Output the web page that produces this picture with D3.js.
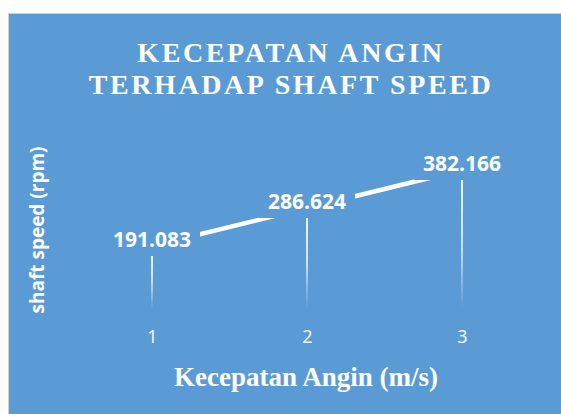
<!DOCTYPE html>
<html>
<head>
<meta charset="utf-8">
<script src="https://cdn.jsdelivr.net/npm/d3@7"></script>
<style>
    body { margin: 0; background: #fff; }
</style>
</head>
<body>
<div id="chart"></div>
<script>
// data
var categories = [1, 2, 3];
var shaftSpeed = [191.083, 286.624, 382.166];
var titleLines = ["KECEPATAN ANGIN", "TERHADAP SHAFT SPEED"];
var xTitle = "Kecepatan Angin (m/s)";
var yTitle = "shaft speed (rpm)";

var W = 561, H = 414,
    bg = "#5b9bd5",
    svg = d3.select("#chart").append("svg")
        .attr("width", W)
        .attr("height", H),
    x = d3.scalePoint()
        .domain(categories)
        .range([152, 462]),
    y = d3.scaleLinear()
        .domain([0, 382.166])
        .range([322, 170]);

// chart area with thin grey border top/left
svg.append("rect")
    .attr("x", 8.5)
    .attr("y", 13.5)
    .attr("width", W)
    .attr("height", H)
    .attr("fill", bg)
    .attr("stroke", "#d0d0d0")
    .attr("stroke-width", 1);

var defs = svg.append("defs");
var grad = defs.append("linearGradient")
    .attr("id", "drop")
    .attr("x1", 0).attr("y1", 0)
    .attr("x2", 0).attr("y2", 1);
grad.append("stop").attr("offset", "0%").attr("stop-color", "#fff").attr("stop-opacity", 0.95);
grad.append("stop").attr("offset", "55%").attr("stop-color", "#fff").attr("stop-opacity", 0.7);
grad.append("stop").attr("offset", "100%").attr("stop-color", "#fff").attr("stop-opacity", 0);

// title
svg.append("text")
    .attr("text-anchor", "middle")
    .attr("fill", "#fff")
    .style("font-family", "'Liberation Serif', 'Times New Roman', serif")
    .style("font-weight", "bold")
    .style("font-size", "28px")
    .style("letter-spacing", "2.6px")
    .selectAll("tspan")
    .data(titleLines)
    .enter()
    .append("tspan")
    .attr("x", 291)
    .attr("y", function(d, i) { return 62 + i * 32; })
    .text(function(d) { return d; });

var points = categories.map(function(c, i) { return {x: c, y: shaftSpeed[i]}; });

// drop lines
svg.selectAll(".drop")
    .data(points)
    .enter()
    .append("rect")
    .attr("class", "drop")
    .attr("x", function(d) { return x(d.x) - 1; })
    .attr("y", function(d) { return y(d.y); })
    .attr("width", 2)
    .attr("height", function(d) { return y(0) - y(d.y) - 14; })
    .attr("fill", "url(#drop)");

var line = d3.line()
    .x(function(d) { return x(d.x); })
    .y(function(d) { return y(d.y); });

svg.append("path")
    .datum(points)
    .attr("d", line)
    .attr("fill", "none")
    .attr("stroke", "#fff")
    .attr("stroke-width", 4.5);

// data labels with background box
var labels = svg.selectAll(".lbl")
    .data(points)
    .enter()
    .append("g")
    .attr("class", "lbl")
    .attr("transform", function(d) { return "translate(" + x(d.x) + "," + (y(d.y) - 7) + ")"; });

labels.append("rect")
    .attr("x", -48)
    .attr("y", -17)
    .attr("width", 96)
    .attr("height", 34)
    .attr("fill", bg);

labels.append("text")
    .attr("text-anchor", "middle")
    .attr("dy", "0.36em")
    .attr("fill", "#fff")
    .style("font-family", "'Open Sans', sans-serif")
    .style("font-weight", "bold")
    .style("font-size", "21px")
    .text(function(d) { return d.y.toFixed(3); });

// x axis tick labels
var xAxis = svg.append("g")
    .attr("transform", "translate(0," + 322 + ")")
    .call(d3.axisBottom(x).tickSize(0).tickPadding(8));
xAxis.select(".domain").remove();
xAxis.selectAll("text")
    .attr("fill", "#fff")
    .style("font-family", "'Open Sans', sans-serif")
    .style("font-size", "18px");

// axis titles
svg.append("text")
    .attr("x", 306)
    .attr("y", 386)
    .attr("text-anchor", "middle")
    .attr("fill", "#fff")
    .style("font-family", "'Liberation Serif', 'Times New Roman', serif")
    .style("font-weight", "bold")
    .style("font-size", "27px")
    .text(xTitle);

svg.append("text")
    .attr("transform", "translate(44,230) rotate(-90)")
    .attr("text-anchor", "middle")
    .attr("fill", "#fff")
    .style("font-family", "'Open Sans', sans-serif")
    .style("font-weight", "bold")
    .style("font-size", "19px")
    .text(yTitle);
</script>
</body>
</html>
